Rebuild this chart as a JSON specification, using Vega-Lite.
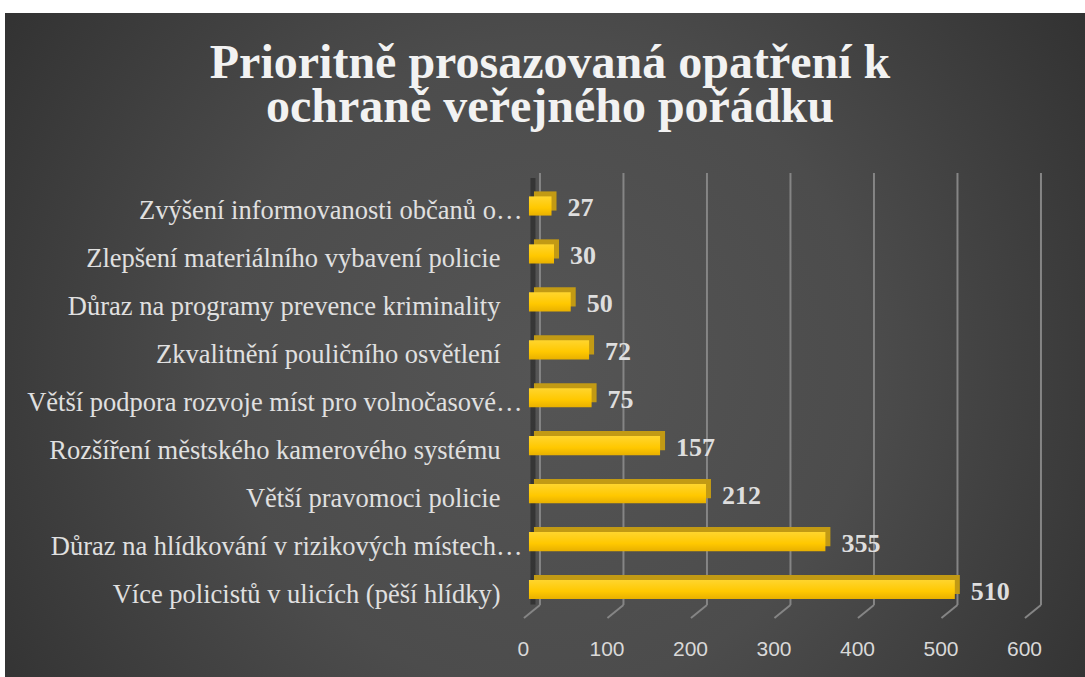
{
  "$schema": "https://vega.github.io/schema/vega-lite/v6.json",
  "width": 1080,
  "height": 664,
  "autosize": {"type": "none"},
  "padding": {"left": 5, "top": 13, "right": 0, "bottom": 0},
  "background": "white",
  "config": {
    "view": {
      "stroke": null,
      "fill": {
        "gradient": "radial",
        "x1": 0.5, "y1": 0.52, "r1": 0,
        "x2": 0.5, "y2": 0.52, "r2": 0.75,
        "stops": [
          {"offset": 0, "color": "#555555"},
          {"offset": 0.4, "color": "#4c4c4c"},
          {"offset": 1, "color": "#252525"}
        ]
      }
    }
  },
  "title": {
    "text": ["Prioritně prosazovaná opatření k", "ochraně veřejného pořádku"],
    "font": "Liberation Serif",
    "fontSize": 48,
    "fontWeight": "bold",
    "color": "#f2f2f2",
    "anchor": "middle",
    "frame": "group",
    "offset": -119,
    "lineHeight": 44,
    "dx": 5
  },
  "datasets": {
    "cats": [
      {"opatreni": "Zvýšení informovanosti občanů o…", "pocet": 27},
      {"opatreni": "Zlepšení materiálního vybavení policie", "pocet": 30},
      {"opatreni": "Důraz na programy prevence kriminality", "pocet": 50},
      {"opatreni": "Zkvalitnění pouličního osvětlení", "pocet": 72},
      {"opatreni": "Větší podpora rozvoje míst pro volnočasové…", "pocet": 75},
      {"opatreni": "Rozšíření městského kamerového systému", "pocet": 157},
      {"opatreni": "Větší pravomoci policie", "pocet": 212},
      {"opatreni": "Důraz na hlídkování v rizikových místech…", "pocet": 355},
      {"opatreni": "Více policistů v ulicích (pěší hlídky)", "pocet": 510}
    ],
    "ticks": [
      {"tick": 0}, {"tick": 100}, {"tick": 200}, {"tick": 300},
      {"tick": 400}, {"tick": 500}, {"tick": 600}
    ]
  },
  "layer": [
    {
      "data": {"name": "ticks"},
      "transform": [{"filter": "datum.tick == 0"}],
      "mark": {"type": "rule", "color": "#0d0d0d", "strokeWidth": 5, "opacity": 0.4, "xOffset": 4, "yOffset": -28, "y2Offset": 15},
      "encoding": {
        "x": {"field": "tick", "type": "quantitative",
              "scale": {"domain": [-627.5, 665.9], "nice": false, "zero": false},
              "axis": {"values": [0, 100, 200, 300, 400, 500, 600], "domain": false, "ticks": false, "grid": false, "labelFont": "Liberation Sans", "labelFontSize": 21, "labelColor": "#d9d9d9", "labelPadding": 2, "labelOffset": -6, "offset": -41, "title": null, "labelFlush": false, "labelOverlap": false}},
        "y": {"datum": "Zvýšení informovanosti občanů o…", "type": "nominal",
              "scale": {"type": "band", "domain": ["Zvýšení informovanosti občanů o…", "Zlepšení materiálního vybavení policie", "Důraz na programy prevence kriminality", "Zkvalitnění pouličního osvětlení", "Větší podpora rozvoje míst pro volnočasové…", "Rozšíření městského kamerového systému", "Větší pravomoci policie", "Důraz na hlídkování v rizikových místech…", "Více policistů v ulicích (pěší hlídky)"], "range": [183.4, 586.1], "paddingInner": 0.6, "paddingOuter": 0},
              "axis": {"domain": false, "ticks": false, "grid": false, "offset": -505, "labelFont": "Liberation Serif", "labelFontSize": 26.5, "labelColor": "#e0e0e0", "labelLimit": 600, "labelOffset": 5.5, "labelPadding": {"condition": {"test": "indexof(datum.label, '…') >= 0", "value": -12}, "value": 10}, "title": null}},
        "y2": {"datum": "Více policistů v ulicích (pěší hlídky)"}
      }
    },
    {
      "data": {"name": "ticks"},
      "mark": {"type": "rule", "color": "#858585", "strokeWidth": 2, "xOffset": 11, "yOffset": -33, "y2Offset": 15.5},
      "encoding": {
        "x": {"field": "tick", "type": "quantitative",
              "scale": {"domain": [-627.5, 665.9], "nice": false, "zero": false}},
        "y": {"datum": "Zvýšení informovanosti občanů o…", "type": "nominal",
              "scale": {"type": "band", "domain": ["Zvýšení informovanosti občanů o…", "Zlepšení materiálního vybavení policie", "Důraz na programy prevence kriminality", "Zkvalitnění pouličního osvětlení", "Větší podpora rozvoje míst pro volnočasové…", "Rozšíření městského kamerového systému", "Větší pravomoci policie", "Důraz na hlídkování v rizikových místech…", "Více policistů v ulicích (pěší hlídky)"], "range": [183.4, 586.1], "paddingInner": 0.6, "paddingOuter": 0}},
        "y2": {"datum": "Více policistů v ulicích (pěší hlídky)"}
      }
    },
    {
      "data": {"name": "ticks"},
      "mark": {"type": "rule", "color": "#858585", "strokeWidth": 2, "xOffset": 11, "x2Offset": -5, "yOffset": 15.5, "y2Offset": 28.5},
      "encoding": {
        "x": {"field": "tick", "type": "quantitative",
              "scale": {"domain": [-627.5, 665.9], "nice": false, "zero": false}},
        "x2": {"field": "tick"},
        "y": {"datum": "Více policistů v ulicích (pěší hlídky)", "type": "nominal",
              "scale": {"type": "band", "domain": ["Zvýšení informovanosti občanů o…", "Zlepšení materiálního vybavení policie", "Důraz na programy prevence kriminality", "Zkvalitnění pouličního osvětlení", "Větší podpora rozvoje míst pro volnočasové…", "Rozšíření městského kamerového systému", "Větší pravomoci policie", "Důraz na hlídkování v rizikových místech…", "Více policistů v ulicích (pěší hlídky)"], "range": [183.4, 586.1], "paddingInner": 0.6, "paddingOuter": 0}},
        "y2": {"datum": "Více policistů v ulicích (pěší hlídky)"}
      }
    },
    {
      "data": {"name": "cats"},
      "mark": {"type": "bar", "color": "#C29A14", "xOffset": 5, "x2Offset": 5, "yOffset": -5, "y2Offset": -5},
      "encoding": {
        "x": {"field": "pocet", "type": "quantitative",
              "scale": {"domain": [-627.5, 665.9], "nice": false, "zero": false}},
        "y": {"field": "opatreni", "type": "nominal", "sort": null,
              "scale": {"type": "band", "domain": ["Zvýšení informovanosti občanů o…", "Zlepšení materiálního vybavení policie", "Důraz na programy prevence kriminality", "Zkvalitnění pouličního osvětlení", "Větší podpora rozvoje míst pro volnočasové…", "Rozšíření městského kamerového systému", "Větší pravomoci policie", "Důraz na hlídkování v rizikových místech…", "Více policistů v ulicích (pěší hlídky)"], "range": [183.4, 586.1], "paddingInner": 0.6, "paddingOuter": 0}}
      }
    },
    {
      "data": {"name": "cats"},
      "mark": {"type": "bar",
               "color": {"gradient": "linear", "x1": 0, "y1": 0, "x2": 0, "y2": 1,
                         "stops": [{"offset": 0, "color": "#FFD52E"}, {"offset": 0.6, "color": "#FFC800"}, {"offset": 1, "color": "#E8B000"}]}},
      "encoding": {
        "x": {"field": "pocet", "type": "quantitative",
              "scale": {"domain": [-627.5, 665.9], "nice": false, "zero": false}},
        "y": {"field": "opatreni", "type": "nominal", "sort": null,
              "scale": {"type": "band", "domain": ["Zvýšení informovanosti občanů o…", "Zlepšení materiálního vybavení policie", "Důraz na programy prevence kriminality", "Zkvalitnění pouličního osvětlení", "Větší podpora rozvoje míst pro volnočasové…", "Rozšíření městského kamerového systému", "Větší pravomoci policie", "Důraz na hlídkování v rizikových místech…", "Více policistů v ulicích (pěší hlídky)"], "range": [183.4, 586.1], "paddingInner": 0.6, "paddingOuter": 0}}
      }
    },
    {
      "data": {"name": "cats"},
      "mark": {"type": "text", "font": "Liberation Serif", "fontSize": 26, "fontWeight": "bold", "color": "#dedede", "align": "left", "baseline": "middle", "dx": 16, "dy": 2.5},
      "encoding": {
        "x": {"field": "pocet", "type": "quantitative",
              "scale": {"domain": [-627.5, 665.9], "nice": false, "zero": false}},
        "y": {"field": "opatreni", "type": "nominal", "sort": null,
              "scale": {"type": "band", "domain": ["Zvýšení informovanosti občanů o…", "Zlepšení materiálního vybavení policie", "Důraz na programy prevence kriminality", "Zkvalitnění pouličního osvětlení", "Větší podpora rozvoje míst pro volnočasové…", "Rozšíření městského kamerového systému", "Větší pravomoci policie", "Důraz na hlídkování v rizikových místech…", "Více policistů v ulicích (pěší hlídky)"], "range": [183.4, 586.1], "paddingInner": 0.6, "paddingOuter": 0}},
        "text": {"field": "pocet", "type": "quantitative"}
      }
    }
  ]
}
